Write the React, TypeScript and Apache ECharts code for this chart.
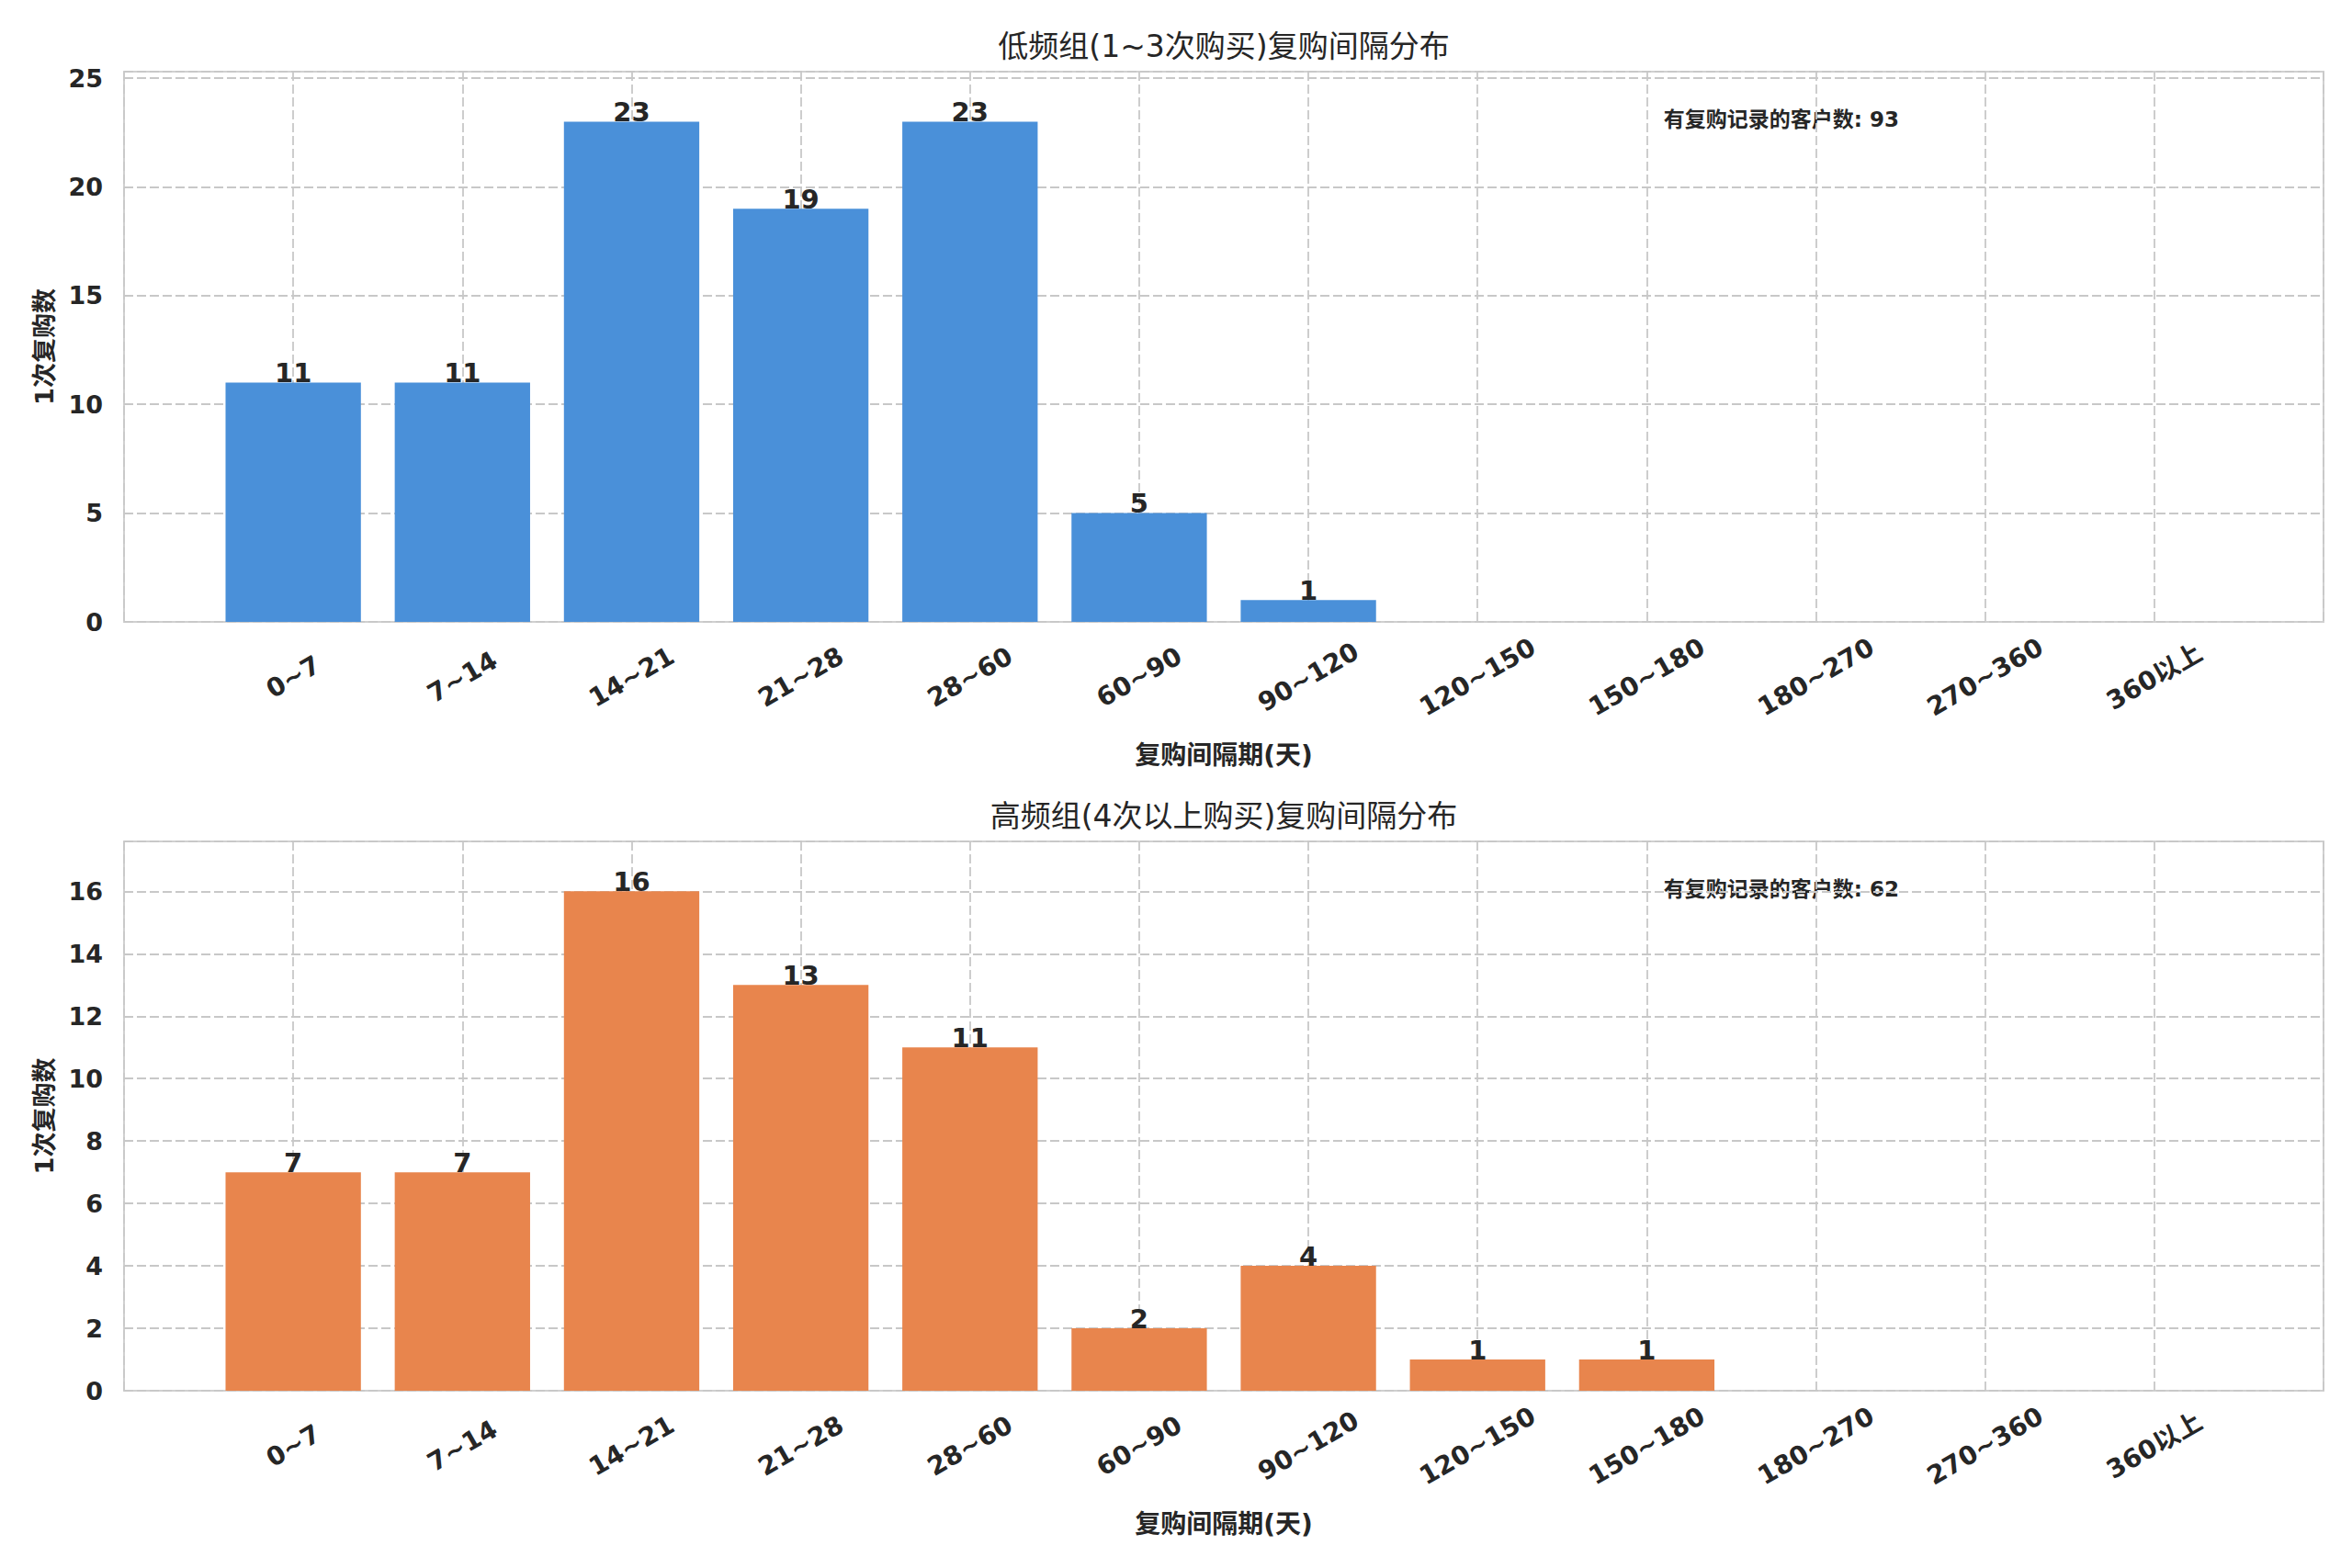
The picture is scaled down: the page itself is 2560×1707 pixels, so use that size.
import React, { useEffect, useRef } from "react";
import * as echarts from "echarts";

const categories = ["0~7", "7~14", "14~21", "21~28", "28~60", "60~90", "90~120", "120~150", "150~180", "180~270", "270~360", "360以上"];
const lowFreqCounts = [11, 11, 23, 19, 23, 5, 1, 0, 0, 0, 0, 0];
const highFreqCounts = [7, 7, 16, 13, 11, 2, 4, 1, 1, 0, 0, 0];
const topTitle = "低频组(1~3次购买)复购间隔分布";
const bottomTitle = "高频组(4次以上购买)复购间隔分布";
const xAxisName = "复购间隔期(天)";
const yAxisName = "1次复购数";
const totalLabel = "有复购记录的客户数";
const topYTicks = { max: 25.3, interval: 5 };
const bottomYTicks = { max: 17.6, interval: 2 };

const FONT = "'DejaVu Sans', 'Noto Sans CJK SC', sans-serif";
const TEXT = "#262626";
const GRIDLINE = { type: [10, 4], color: "#c8c8c8", width: 1.8 };

export default function App() {
  const ref = useRef<HTMLDivElement>(null);
  useEffect(() => {
    const el = ref.current!;
    const chart = echarts.init(el, null, { renderer: "svg" });
    const W = el.clientWidth;
    const left = 135;
    const right = 31;
    const gridW = W - left - right;
    const unit = gridW / 13;
    const barW = unit * 0.8;
    const grids = [
      { top: 78, height: 599 },
      { top: 916, height: 598 },
    ];
    const sum = (a: number[]) => a.reduce((s, v) => s + v, 0);

    const xAxisFor = (gi: number) => ({
      type: "value",
      gridIndex: gi,
      min: -1,
      max: 12,
      interval: 1,
      axisLine: { show: false },
      axisTick: { show: false },
      splitLine: { show: true, lineStyle: GRIDLINE },
      axisLabel: {
        formatter: (v: number) => (Number.isInteger(v) && v >= 0 && v < categories.length ? categories[v] : ""),
        rotate: 30,
        align: "center",
        verticalAlign: "middle",
        margin: 60,
        fontSize: 28,
        fontWeight: "bold",
        color: TEXT,
        fontFamily: FONT,
      },
      name: xAxisName,
      nameLocation: "middle",
      nameGap: 131,
      nameTextStyle: { fontSize: 28, fontWeight: "bold", color: TEXT, fontFamily: FONT },
    });
    const yAxisFor = (gi: number, t: { max: number; interval: number }) => ({
      type: "value",
      gridIndex: gi,
      min: 0,
      max: t.max,
      interval: t.interval,
      axisLine: { show: false },
      axisTick: { show: false },
      splitLine: { show: true, lineStyle: GRIDLINE },
      axisLabel: {
        formatter: (v: number) => (Math.abs(v / t.interval - Math.round(v / t.interval)) < 1e-6 ? String(v) : ""),
        margin: 23,
        fontSize: 27,
        fontWeight: "bold",
        color: TEXT,
        fontFamily: FONT,
      },
      name: yAxisName,
      nameLocation: "middle",
      nameGap: 73,
      nameRotate: 90,
      nameTextStyle: { fontSize: 27, fontWeight: "bold", color: TEXT, fontFamily: FONT },
    });
    const barSeries = (gi: number, vals: number[], color: string) => ({
      type: "bar",
      xAxisIndex: gi,
      yAxisIndex: gi,
      barWidth: barW,
      data: vals.map((v, i) => [i, v]),
      itemStyle: { color },
      label: {
        show: true,
        position: "top",
        distance: -4,
        formatter: (p: any) => (p.value[1] > 0 ? String(p.value[1]) : ""),
        fontSize: 29,
        fontWeight: "bold",
        color: TEXT,
        fontFamily: FONT,
      },
    });

    const textEl = (text: string, x: number, y: number, size: number, weight: string, align: string) => ({
      type: "text",
      x,
      y,
      style: {
        text,
        fontSize: size,
        fontWeight: weight,
        fill: TEXT,
        fontFamily: FONT,
        textAlign: align,
        textVerticalAlign: "middle",
      },
    });
    const centerX = left + gridW / 2;

    chart.setOption({
      animation: false,
      backgroundColor: "#ffffff",
      grid: grids.map((g) => ({
        left,
        right,
        top: g.top,
        height: g.height,
        show: true,
        borderColor: "#d0d0d0",
        borderWidth: 2,
        containLabel: false,
      })),
      xAxis: [xAxisFor(0), xAxisFor(1)],
      yAxis: [yAxisFor(0, topYTicks), yAxisFor(1, bottomYTicks)],
      series: [barSeries(0, lowFreqCounts, "#4A90D9"), barSeries(1, highFreqCounts, "#E8854D")],
      graphic: [
        textEl(topTitle, centerX, 50, 33, "normal", "center"),
        textEl(bottomTitle, centerX, 888, 33, "normal", "center"),
        textEl(`${totalLabel}: ${sum(lowFreqCounts)}`, left + gridW * 0.7, 130, 23, "bold", "left"),
        textEl(`${totalLabel}: ${sum(highFreqCounts)}`, left + gridW * 0.7, 968, 23, "bold", "left"),
      ],
    });
    return () => chart.dispose();
  }, []);
  return <div ref={ref} style={{ position: "fixed", left: 0, top: 0, width: "100vw", height: "100vh", background: "#fff" }} />;
}
